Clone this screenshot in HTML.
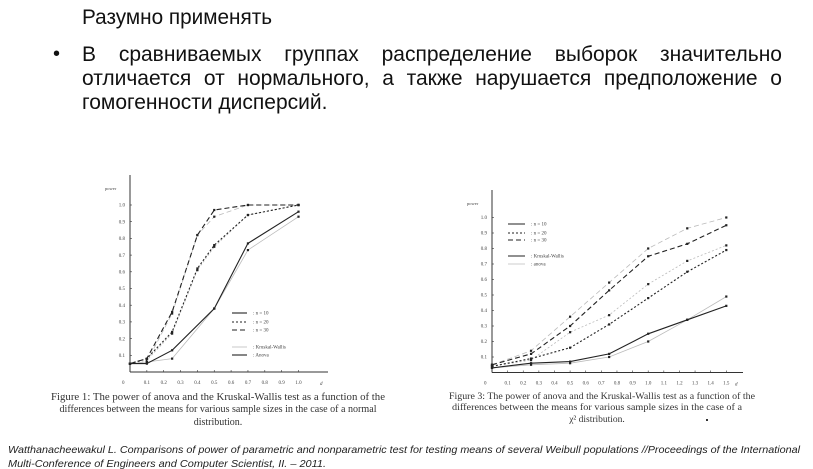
<!DOCTYPE html>
<html><head><meta charset="utf-8">
<style>
html,body{margin:0;padding:0;background:#fff;}
body{width:813px;height:469px;position:relative;overflow:hidden;font-family:"Liberation Sans","DejaVu Sans",sans-serif;color:#111;}
.abs{position:absolute;}
#bullet{left:53px;top:43px;font-size:20px;}
.pl{position:absolute;left:82px;width:700px;font-size:21px;line-height:24px;height:24px;white-space:nowrap;}
svg text{font-family:"Liberation Serif",serif;}
</style></head>
<body>
<svg class="abs" style="left:0;top:0" width="813" height="40">
  <text x="82" y="24" font-size="21" textLength="190" lengthAdjust="spacingAndGlyphs" fill="#111" style="font-family:'Liberation Sans',sans-serif">Разумно применять</text>
</svg>
<div class="abs" id="bullet">•</div>
<div>
  <div class="pl" style="top:43px;display:flex;justify-content:space-between;"><span>В</span><span>сравниваемых</span><span>группах</span><span>распределение</span><span>выборок</span><span>значительно</span></div>
  <div class="pl" style="top:67px;display:flex;justify-content:space-between;"><span>отличается</span><span>от</span><span>нормального,</span><span>а</span><span>также</span><span>нарушается</span><span>предположение</span><span>о</span></div>
  <div class="pl" style="top:91px;">гомогенности дисперсий.</div>
</div>

<svg class="abs" style="left:0;top:0" width="813" height="469">
  <g id="c1"></g>
  <g id="c2"></g>
  <g font-size="10" fill="#333" text-anchor="middle">
    <text x="218" y="400" textLength="334" lengthAdjust="spacingAndGlyphs">Figure 1: The power of anova and the Kruskal-Wallis test as a function of the</text>
    <text x="218" y="412" textLength="317" lengthAdjust="spacingAndGlyphs">differences between the means for various sample sizes in the case of a normal</text>
    <text x="218" y="425">distribution.</text>
  </g>
  <g font-size="9.5" fill="#333" text-anchor="middle">
    <text x="602" y="399" textLength="306" lengthAdjust="spacingAndGlyphs">Figure 3: The power of anova and the Kruskal-Wallis test as a function of the</text>
    <text x="597" y="410" textLength="290" lengthAdjust="spacingAndGlyphs">differences between the means for various sample sizes in the case of a</text>
    <text x="597" y="422">χ² distribution.</text>
    <rect x="706" y="419" width="2" height="2" fill="#333"/>
  </g>
  <g font-size="10.5" fill="#222" font-style="italic">
    <text x="8" y="453" textLength="792" lengthAdjust="spacingAndGlyphs" style="font-family:'Liberation Sans',sans-serif">Watthanacheewakul L. Comparisons of power of parametric and nonparametric test for testing means of several Weibull populations //Proceedings of the International</text>
    <text x="8" y="467" textLength="318" lengthAdjust="spacingAndGlyphs" style="font-family:'Liberation Sans',sans-serif">Multi-Conference of Engineers and Computer Scientist, II. – 2011.</text>
  </g>
</svg>

<script>
// ---- Figure 1 data ----
const f1X = [0, 0.1, 0.25, 0.5, 0.7, 1.0];
const f1X2 = [0, 0.1, 0.25, 0.4, 0.5, 0.7, 1.0];
const f1AnovaN10 = [0.05, 0.05, 0.13, 0.38, 0.77, 0.96];
const f1KwN10 = [0.05, 0.06, 0.08, 0.38, 0.73, 0.93];
const f1AnovaN20 = [0.05, 0.08, 0.24, 0.62, 0.76, 0.94, 1.0];
const f1KwN20 = [0.05, 0.07, 0.23, 0.61, 0.75, 0.94, 1.0];
const f1AnovaN30 = [0.05, 0.08, 0.36, 0.82, 0.97, 1.0, 1.0];
const f1KwN30 = [0.05, 0.06, 0.35, 0.82, 0.93, 1.0, 1.0];
const f1XTicks = [0.1,0.2,0.3,0.4,0.5,0.6,0.7,0.8,0.9,1.0];
const f1YTicks = [0.1,0.2,0.3,0.4,0.5,0.6,0.7,0.8,0.9,1.0];
// ---- Figure 3 data ----
const f3X = [0, 0.25, 0.5, 0.75, 1.0, 1.25, 1.5];
const f3KwN10 = [0.03, 0.06, 0.07, 0.12, 0.25, 0.34, 0.43];
const f3AnovaN10 = [0.03, 0.05, 0.06, 0.10, 0.20, 0.34, 0.49];
const f3KwN20 = [0.04, 0.09, 0.16, 0.31, 0.48, 0.65, 0.79];
const f3AnovaN20 = [0.04, 0.08, 0.26, 0.37, 0.57, 0.72, 0.82];
const f3KwN30 = [0.05, 0.12, 0.30, 0.53, 0.75, 0.83, 0.95];
const f3AnovaN30 = [0.05, 0.14, 0.36, 0.58, 0.80, 0.93, 1.0];
const f3XTicks = [0.1,0.2,0.3,0.4,0.5,0.6,0.7,0.8,0.9,1.0,1.1,1.2,1.3,1.4,1.5];
const f3YTicks = [0.1,0.2,0.3,0.4,0.5,0.6,0.7,0.8,0.9,1.0];

const NS = 'http://www.w3.org/2000/svg';
function mk(parent, tag, attrs) {
  const e = document.createElementNS(NS, tag);
  for (const k in attrs) e.setAttribute(k, attrs[k]);
  parent.appendChild(e);
  return e;
}
const DASH = {n10: '', n20: '2,2', n30: '5,3'};
const DARK = '#222', LIGHT = '#bbb';

function drawChart(g, cfg) {
  const sx = v => cfg.x0 + v * cfg.kx;
  const sy = v => cfg.y0 - v * cfg.ky;
  const xa = mk(g, 'line', {x1: cfg.x0, y1: cfg.y0, x2: cfg.xEnd, y2: cfg.y0, stroke: '#333', 'stroke-width': 1});
  
  
  const ya = mk(g, 'line', {x1: cfg.x0, y1: cfg.y0, x2: cfg.x0, y2: cfg.yTop, stroke: '#333', 'stroke-width': 1});
  
  
  const yl = mk(g, 'text', {x: cfg.x0 - 25, y: cfg.yTop + 15, 'font-size': 4.5, fill: '#444'});
  yl.textContent = 'power';
  
  
  const xl = mk(g, 'text', {x: cfg.xEnd - 8, y: cfg.y0 + 13, 'font-size': 5, fill: '#444', 'font-style': 'italic'});
  xl.textContent = 'd';
  
  
  const zl = mk(g, 'text', {x: cfg.x0 - 8, y: cfg.y0 + 12, 'font-size': 5, fill: '#444'});
  zl.textContent = '0';
  
  
  cfg.xt.forEach(v => {
    mk(g, 'line', {x1: sx(v), y1: cfg.y0, x2: sx(v), y2: cfg.y0 - 2, stroke: '#333', 'stroke-width': 0.6});
    const t = mk(g, 'text', {x: sx(v), y: cfg.y0 + 12, 'font-size': 5, fill: '#444', 'text-anchor': 'middle'});
    t.textContent = v.toFixed(1);
    
    
  });
  cfg.yt.forEach(v => {
    mk(g, 'line', {x1: cfg.x0, y1: sy(v), x2: cfg.x0 + 2, y2: sy(v), stroke: '#333', 'stroke-width': 0.6});
    const t = mk(g, 'text', {x: cfg.x0 - 5, y: sy(v) + 1.7, 'font-size': 5, fill: '#444', 'text-anchor': 'end'});
    t.textContent = v.toFixed(1);
    
    
  });
  cfg.series.forEach(s => {
    const pts = s.x.map((xv, i) => sx(xv).toFixed(1) + ',' + sy(s.y[i]).toFixed(1)).join(' ');
    const pl = mk(g, 'polyline', {points: pts, fill: 'none', stroke: s.light ? LIGHT : DARK,
      'stroke-width': s.light ? 0.8 : 1.1, 'stroke-dasharray': DASH[s.n]});
    
    
    s.x.forEach((xv, i) => {
      const r = mk(g, 'rect', {x: sx(xv) - 1.1, y: sy(s.y[i]) - 1.1, width: 2.2, height: 2.2, fill: '#222'});
      
      
    });
  });
  cfg.legend.forEach(l => {
    const ln = mk(g, 'line', {x1: l.x, y1: l.y, x2: l.x + cfg.legW, y2: l.y, stroke: l.light ? LIGHT : DARK,
      'stroke-width': l.light ? 0.8 : 1.1, 'stroke-dasharray': l.dash || ''});
    
    
    const t = mk(g, 'text', {x: l.x + cfg.legW + 6, y: l.y + 1.7, 'font-size': 5, fill: '#444'});
    t.textContent = l.label;
    
    
  });
}

drawChart(document.getElementById('c1'), {
  x0: 130, y0: 372, kx: 168.5, ky: 167, xEnd: 328, yTop: 175,
  xt: f1XTicks, yt: f1YTicks, legW: 15,
  series: [
    {x: f1X, y: f1KwN10, n: 'n10', light: true, name: 'kw-n10-line'},
    {x: f1X2, y: f1KwN20, n: 'n20', light: true, name: 'kw-n20-line'},
    {x: f1X2, y: f1KwN30, n: 'n30', light: true, name: 'kw-n30-line'},
    {x: f1X, y: f1AnovaN10, n: 'n10', light: false, name: 'anova-n10-line'},
    {x: f1X2, y: f1AnovaN20, n: 'n20', light: false, name: 'anova-n20-line'},
    {x: f1X2, y: f1AnovaN30, n: 'n30', light: false, name: 'anova-n30-line'}
  ],
  legend: [
    {x: 232, y: 313, label: ': n = 10', dash: ''},
    {x: 232, y: 322, label: ': n = 20', dash: '2,2'},
    {x: 232, y: 330, label: ': n = 30', dash: '5,3'},
    {x: 232, y: 347, label: ': Kruskal-Wallis', light: true},
    {x: 232, y: 355, label: ': Anova'}
  ]
});

drawChart(document.getElementById('c2'), {
  x0: 492, y0: 372.5, kx: 156.2, ky: 155, xEnd: 743, yTop: 190,
  xt: f3XTicks, yt: f3YTicks, legW: 17,
  series: [
    {x: f3X, y: f3AnovaN10, n: 'n10', light: true, name: 'anova-n10-line'},
    {x: f3X, y: f3AnovaN20, n: 'n20', light: true, name: 'anova-n20-line'},
    {x: f3X, y: f3AnovaN30, n: 'n30', light: true, name: 'anova-n30-line'},
    {x: f3X, y: f3KwN10, n: 'n10', light: false, name: 'kw-n10-line'},
    {x: f3X, y: f3KwN20, n: 'n20', light: false, name: 'kw-n20-line'},
    {x: f3X, y: f3KwN30, n: 'n30', light: false, name: 'kw-n30-line'}
  ],
  legend: [
    {x: 508, y: 224, label: ': n = 10', dash: ''},
    {x: 508, y: 233, label: ': n = 20', dash: '2,2'},
    {x: 508, y: 240, label: ': n = 30', dash: '5,3'},
    {x: 508, y: 256, label: ': Kruskal-Wallis'},
    {x: 508, y: 264, label: ': anova', light: true}
  ]
});
</script>
</body></html>
